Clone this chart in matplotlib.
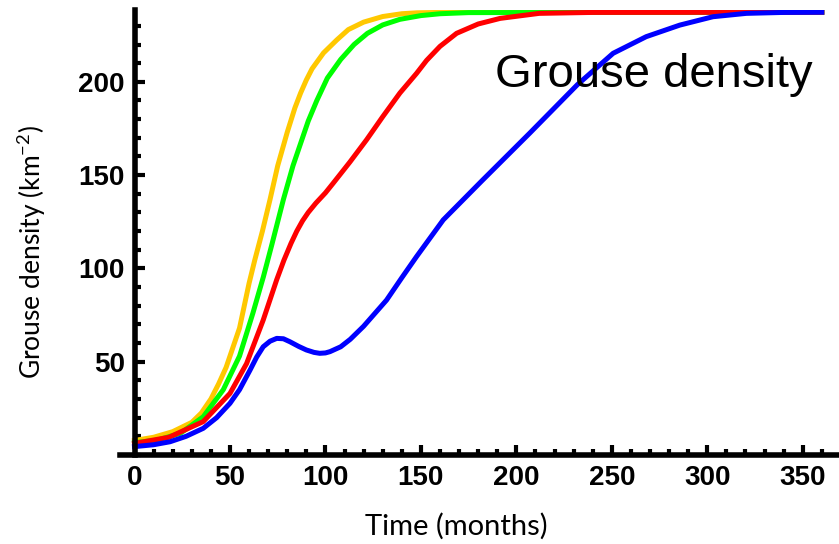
import numpy as np
import matplotlib
matplotlib.use("Agg")
import matplotlib.pyplot as plt
from matplotlib.ticker import MultipleLocator

# curves (time in months, density per km^2)
x_yellow = [0, 10, 20, 30, 35, 40, 44, 48, 55, 60, 63, 67, 71, 75, 80, 84, 87, 90, 93, 99, 106, 112, 120, 130, 140, 148, 160, 180, 360]
y_yellow = [7.8, 9.5, 12.5, 17.5, 22.5, 30, 38, 47, 68, 92, 104.5, 120, 137, 155, 173, 186, 194, 201, 207, 215.5, 222.5, 228, 232, 235, 236.5, 237, 237.2, 237.3, 237.3]

x_green = [0, 12, 24, 36, 46.5, 55, 62, 67.5, 72, 78, 83, 87, 91, 95.5, 101, 108, 115, 122, 130, 139, 150, 160, 175, 360]
y_green = [6.6, 8, 11.6, 20.5, 35, 53, 76, 95.5, 113, 137, 155, 167, 179, 190, 202, 212, 220, 226, 230.5, 233.5, 235.5, 236.5, 237.1, 237.3]

x_red = [0, 18, 36, 50, 58.7, 67.4, 74.5, 78.3, 82, 85, 88, 91, 95, 100, 104, 112.8, 121.6, 130, 139, 147.7, 153, 160, 168.7, 180, 191.5, 212, 240, 360]
y_red = [6.2, 9.5, 17.9, 33, 49, 72.3, 94, 104.5, 113.5, 120, 125.5, 130, 135, 140.5, 145.6, 157, 169, 181.3, 194, 204.5, 211.5, 219, 226, 231, 234, 236.7, 237.2, 237.3]

x_blue = [0, 10, 18.6, 27, 36, 43, 50, 55, 60.5, 64, 67.4, 71, 74.5, 78, 81.4, 86, 90, 94, 97, 100, 102.4, 108, 113, 120, 126, 132, 140, 147.7,
          161.7, 182, 207, 232, 250.7, 268, 285.6, 303, 320.5, 340, 360]
y_blue = [4.5, 5.5, 7.1, 10, 14.3, 20, 27.7, 35, 45.5, 52.5, 58, 61, 62.5, 62.3, 60.7, 58.2, 56.3, 55, 54.5, 54.7, 55.4, 58, 62, 69, 76, 83, 95, 106.3,
          126, 147, 172.5, 198.5, 215.3, 224.2, 230.4, 234.9, 236.7, 237.2, 237.3]

W, H = 839, 544
fig = plt.figure(figsize=(W/100, H/100), dpi=100)
ax = fig.add_axes([120/W, (H-455)/H, (W-120)/W, (455-10)/H])

lw = 3.6
ax.plot(x_yellow, y_yellow, color='#FFC800', lw=lw, solid_joinstyle='round')
ax.plot(x_green, y_green, color='#00FF00', lw=lw, solid_joinstyle='round')
ax.plot(x_red, y_red, color='#FF0000', lw=lw, solid_joinstyle='round')
ax.plot(x_blue, y_blue, color='#0000FF', lw=lw, solid_joinstyle='round')

ax.set_xlim(-7.6, 369)
ax.set_ylim(0, 238.5)

for s in ['top', 'right']:
    ax.spines[s].set_visible(False)
ax.spines['left'].set_position(('data', 0))
ax.spines['left'].set_linewidth(4)
ax.spines['bottom'].set_linewidth(4)

ax.set_xticks(np.arange(0, 351, 50))
ax.set_yticks([50, 100, 150, 200])
ax.xaxis.set_minor_locator(MultipleLocator(10))
ax.yaxis.set_minor_locator(MultipleLocator(10))
ax.tick_params(which='major', direction='in', length=7, width=3, pad=7)
ax.tick_params(which='minor', direction='in', length=4.5, width=3)
for lab in ax.get_xticklabels() + ax.get_yticklabels():
    lab.set_fontfamily('Liberation Sans')
    lab.set_fontweight('bold')
    lab.set_fontsize(20)

ax.text(495/W, (H-87)/H, 'Grouse density', transform=fig.transFigure,
        fontsize=34, family='Liberation Sans', ha='left', va='baseline')

plt.rcParams['mathtext.default'] = 'regular'
fig.text(456/W, (H-526)/H, 'Time (months)', fontsize=21, family='Lato',
         ha='center', va='center')
fig.text(32/W, (H-252)/H, 'Grouse density (km$^{-2}$)', fontsize=19, family='Lato',
         ha='center', va='center', rotation=90)

fig.savefig('out.png', dpi=100)
